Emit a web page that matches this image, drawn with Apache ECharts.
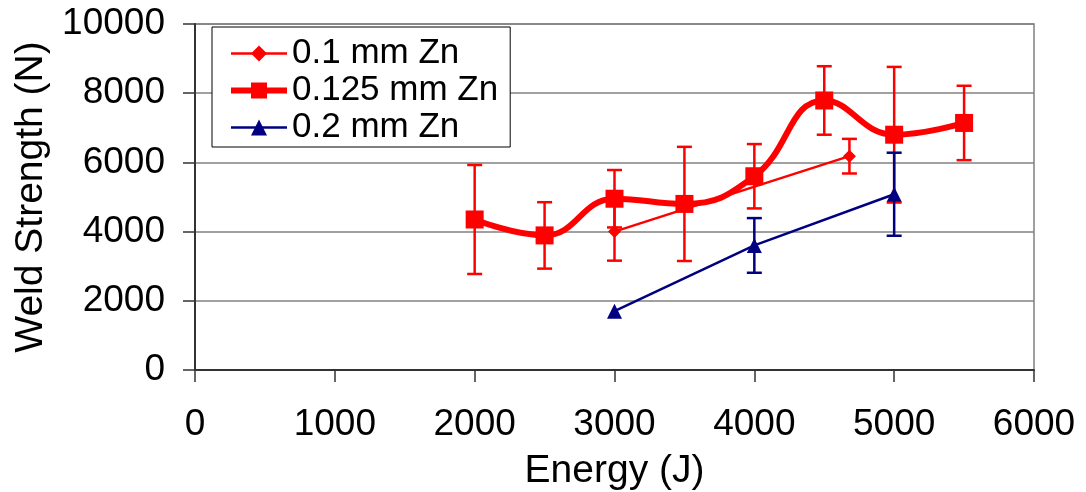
<!DOCTYPE html>
<html>
<head>
<meta charset="utf-8">
<script src="https://cdn.jsdelivr.net/npm/echarts@6/dist/echarts.min.js"></script>
<style>
html,body{margin:0;padding:0;background:#fff;}
#chart{width:1086px;height:492px;}
</style>
</head>
<body>
<div id="chart"></div>
<script>
// ---- data ----
var xTicks = [0, 1000, 2000, 3000, 4000, 5000, 6000];
var yTicks = [0, 2000, 4000, 6000, 8000, 10000];

var seriesNames = ['0.1 mm Zn', '0.125 mm Zn', '0.2 mm Zn'];

var energy01 = [3000, 4680];
var strength01 = [4000, 6180];
var err01 = [840, 500];

var energy125 = [2000, 2500, 3000, 3500, 4000, 4500, 5000, 5500];
var strength125 = [4350, 3890, 4950, 4800, 5600, 7790, 6800, 7140];
var err125 = [1575, 960, 830, 1650, 930, 990, 1960, 1075];

var energy02 = [3000, 4000, 5000];
var strength02 = [1700, 3600, 5080];
var err02 = [0, 790, 1200];

// ---- build ----
function pairs(xs, ys) { return xs.map(function (x, i) { return [x, ys[i]]; }); }
function errData(xs, ys, es) {
  var out = [];
  xs.forEach(function (x, i) { if (es[i] > 0) out.push([x, ys[i] - es[i], ys[i] + es[i]]); });
  return out;
}
function errSeries(data, color) {
  return {
    type: 'custom',
    data: data,
    z: 1,
    silent: true,
    encode: { x: 0, y: [1, 2] },
    renderItem: function (params, api) {
      var lo = api.coord([api.value(0), api.value(1)]);
      var hi = api.coord([api.value(0), api.value(2)]);
      var hw = 7.5;
      var st = { stroke: color, lineWidth: 2.5, fill: null };
      return {
        type: 'group',
        children: [
          { type: 'line', shape: { x1: lo[0], y1: lo[1], x2: hi[0], y2: hi[1] }, style: st },
          { type: 'line', shape: { x1: lo[0] - hw, y1: lo[1], x2: lo[0] + hw, y2: lo[1] }, style: st },
          { type: 'line', shape: { x1: hi[0] - hw, y1: hi[1], x2: hi[0] + hw, y2: hi[1] }, style: st }
        ]
      };
    }
  };
}
function plain(v) { return String(v); }

var FONT = '"Liberation Sans", Arial, sans-serif';
var chart = echarts.init(document.getElementById('chart'), null, { renderer: 'canvas' });
chart.setOption({
  animation: false,
  backgroundColor: '#fff',
  grid: { left: 195, right: 52, top: 24, bottom: 122, show: true, borderColor: '#808080', borderWidth: 1.5,
          containLabel: false, outerBoundsMode: 'none' },
  legend: {
    orient: 'vertical',
    left: 212, top: 27,
    data: [
      { name: seriesNames[0], lineStyle: { width: 2.5 } },
      { name: seriesNames[1], lineStyle: { width: 6 } },
      { name: seriesNames[2], lineStyle: { width: 2.5 } }
    ],
    itemWidth: 56, itemHeight: 20, itemGap: 2,
    padding: [9, 12, 2, 16],
    borderColor: '#000', borderWidth: 1,
    backgroundColor: '#fff',
    textStyle: { fontFamily: FONT, fontSize: 35, color: '#000', lineHeight: 33 }
  },
  xAxis: {
    type: 'value', min: xTicks[0], max: xTicks[xTicks.length - 1], interval: 1000,
    name: 'Energy (J)', nameLocation: 'middle', nameGap: 82,
    nameTextStyle: { fontFamily: FONT, fontSize: 39, color: '#000' },
    axisLine: { show: true, onZero: false, lineStyle: { color: '#333', width: 2 } },
    axisTick: { show: true, inside: false, length: 12, lineStyle: { color: '#333', width: 1.5 } },
    axisLabel: { fontFamily: FONT, fontSize: 37, color: '#000', margin: 36, formatter: plain },
    splitLine: { show: false }
  },
  yAxis: {
    type: 'value', min: yTicks[0], max: yTicks[yTicks.length - 1], interval: 2000,
    name: 'Weld Strength (N)', nameLocation: 'middle', nameGap: 142,
    nameTextStyle: { fontFamily: FONT, fontSize: 39, color: '#000' },
    axisLine: { show: true, onZero: false, lineStyle: { color: '#333', width: 2 } },
    axisTick: { show: true, inside: false, length: 12, lineStyle: { color: '#333', width: 1.5 } },
    axisLabel: { fontFamily: FONT, fontSize: 37, color: '#000', margin: 30, formatter: plain },
    splitLine: { show: true, lineStyle: { color: '#808080', width: 1.5 } }
  },
  series: [
    errSeries(errData(energy01, strength01, err01), '#FF0000'),
    errSeries(errData(energy125, strength125, err125), '#FF0000'),
    errSeries(errData(energy02, strength02, err02), '#000080'),
    {
      name: seriesNames[0], type: 'line', data: pairs(energy01, strength01), z: 3,
      symbol: 'diamond', symbolSize: 13,
      lineStyle: { color: '#FF0000', width: 2.5 }, itemStyle: { color: '#FF0000' }
    },
    {
      name: seriesNames[1], type: 'line', data: pairs(energy125, strength125), z: 4,
      smooth: 0.45,
      symbol: 'rect', symbolSize: 18,
      lineStyle: { color: '#FF0000', width: 6 }, itemStyle: { color: '#FF0000' }
    },
    {
      name: seriesNames[2], type: 'line', data: pairs(energy02, strength02), z: 3,
      symbol: 'triangle', symbolSize: 15,
      lineStyle: { color: '#000080', width: 2.5 }, itemStyle: { color: '#000080' }
    }
  ]
});
</script>
</body>
</html>
